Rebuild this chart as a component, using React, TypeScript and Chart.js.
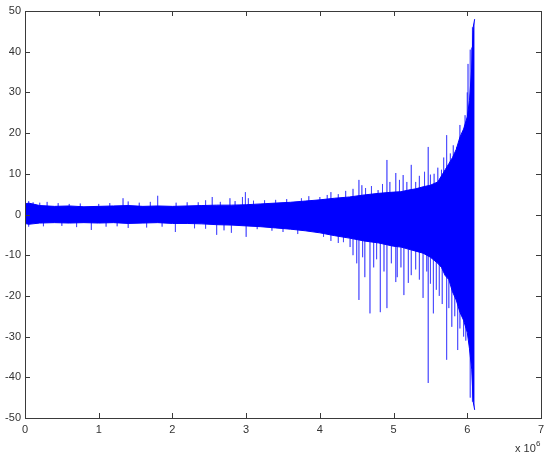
import React, { useEffect, useRef } from "react";
import { Chart, registerables } from "chart.js";

Chart.register(...registerables);

// x positions in units of 10^6 samples
const envX = [0, 0.05, 0.2, 0.4, 0.6, 0.8, 1.0, 1.2, 1.4, 1.6, 1.8, 2.0, 2.2, 2.4, 2.6, 2.8, 3.0, 3.2, 3.4, 3.6, 3.8, 4.0, 4.2, 4.4, 4.6, 4.8, 5.0, 5.1, 5.2, 5.3, 5.4, 5.5, 5.6, 5.65, 5.7, 5.75, 5.8, 5.85, 5.9, 5.95, 6.0, 6.03, 6.06, 6.08, 6.1];
const envUpper = [2.6, 2.8, 2.2, 2.0, 2.1, 1.9, 2.0, 2.1, 2.2, 2.0, 2.1, 2.0, 2.1, 2.2, 2.3, 2.3, 2.4, 2.6, 2.8, 3.0, 3.3, 3.6, 4.0, 4.3, 4.8, 5.2, 5.5, 5.6, 6.0, 6.3, 6.8, 7.2, 8.0, 9.5, 11, 12.5, 14, 16, 19, 21, 24, 28, 36, 46, 48];
const envLower = [-2.2, -2.4, -2.1, -2.0, -2.1, -2.0, -2.1, -2.0, -2.2, -2.1, -2.0, -2.2, -2.2, -2.3, -2.5, -2.6, -2.8, -3.0, -3.3, -3.6, -4.0, -4.5, -5.2, -5.8, -6.5, -7.0, -7.8, -8.0, -8.5, -9.0, -9.5, -10.5, -12, -13, -15, -16, -19, -21, -24, -26, -29, -33, -38, -46, -48];

const spikeUpX = [0.05, 0.11, 0.2, 0.3, 0.45, 0.6, 0.75, 1.0, 1.15, 1.33, 1.40, 1.55, 1.7, 1.80, 2.05, 2.20, 2.35, 2.45, 2.54, 2.65, 2.78, 2.85, 2.95, 2.99, 3.03, 3.1, 3.25, 3.4, 3.55, 3.64, 3.75, 3.85, 4.0, 4.1, 4.15, 4.25, 4.35, 4.45, 4.53, 4.57, 4.62, 4.70, 4.79, 4.85, 4.91, 4.95, 5.03, 5.08, 5.13, 5.18, 5.24, 5.30, 5.35, 5.42, 5.47, 5.5, 5.55, 5.6, 5.65, 5.68, 5.72, 5.77, 5.81, 5.86, 5.9, 5.93, 5.97, 6.0, 6.01, 6.04, 6.06, 6.07];
const spikeUpY = [3.3, 3.0, 2.9, 3.1, 2.8, 2.6, 2.7, 2.6, 2.8, 4.0, 3.2, 2.9, 3.1, 4.6, 2.9, 3.0, 3.0, 3.5, 4.3, 3.1, 4.0, 3.3, 4.3, 5.5, 4.0, 3.4, 3.5, 3.6, 3.8, 3.0, 4.0, 4.5, 4.3, 4.8, 5.5, 5.0, 5.8, 6.3, 8.5, 7.2, 6.5, 7.0, 6.0, 7.5, 13.4, 8.0, 10.2, 8.5, 9.7, 8.0, 12.2, 8.0, 9.5, 10.5, 16.6, 9.8, 10, 11.5, 11, 14, 19.5, 15, 17, 16.6, 22, 16.3, 24.4, 30, 37, 40.5, 41, 46];
const spikeDownX = [0.05, 0.25, 0.5, 0.7, 0.9, 1.1, 1.25, 1.4, 1.65, 1.86, 2.04, 2.3, 2.45, 2.6, 2.7, 2.8, 3.0, 3.15, 3.35, 3.5, 3.7, 3.83, 3.94, 4.05, 4.15, 4.25, 4.32, 4.41, 4.45, 4.5, 4.53, 4.58, 4.61, 4.68, 4.73, 4.77, 4.82, 4.87, 4.91, 4.97, 5.03, 5.05, 5.1, 5.14, 5.20, 5.24, 5.3, 5.35, 5.40, 5.45, 5.47, 5.5, 5.54, 5.58, 5.62, 5.66, 5.72, 5.75, 5.79, 5.83, 5.87, 5.9, 5.95, 5.98, 6.04, 6.07];
const spikeDownY = [-3.0, -2.9, -2.8, -3.1, -3.8, -3.0, -2.9, -3.3, -3.2, -3.0, -4.3, -3.4, -3.5, -5.0, -3.9, -4.5, -5.5, -3.6, -4.0, -4.3, -4.8, -3.8, -3.0, -5.5, -6.5, -7.0, -6.8, -8.0, -10, -12, -21, -10.5, -15.4, -24.3, -13, -11, -24, -14, -23, -12, -16.6, -15.4, -13, -19.8, -16.8, -14.9, -13.5, -16, -20.5, -14, -41.4, -17, -24.3, -18.5, -20, -22, -35.7, -23, -27.6, -25, -33.3, -28, -30, -31, -45, -46];

const xTicks = [0, 1, 2, 3, 4, 5, 6, 7];
const yTicks = [-50, -40, -30, -20, -10, 0, 10, 20, 30, 40, 50];

const FONT = "'Liberation Sans', Arial, Helvetica, sans-serif";
const AXIS = "#3a3a3a";

function spikePoints(xs: number[], ys: number[]) {
  const pts: { x: number; y: number }[] = [];
  xs.forEach((x, i) => {
    pts.push({ x, y: 0 });
    pts.push({ x, y: ys[i] });
    pts.push({ x, y: 0 });
  });
  return pts;
}

const boxPlugin = {
  id: "matlabBox",
  afterDraw(chart: any) {
    const { ctx, chartArea, scales } = chart;
    const { left, right, top, bottom } = chartArea;
    ctx.save();
    ctx.strokeStyle = AXIS;
    ctx.lineWidth = 1;
    ctx.strokeRect(Math.round(left) + 0.5, Math.round(top) + 0.5, Math.round(right - left), Math.round(bottom - top));
    ctx.beginPath();
    xTicks.forEach((v) => {
      if (v === xTicks[0] || v === xTicks[xTicks.length - 1]) return;
      const px = Math.round(scales.x.getPixelForValue(v)) + 0.5;
      ctx.moveTo(px, bottom);
      ctx.lineTo(px, bottom - 5);
      ctx.moveTo(px, top);
      ctx.lineTo(px, top + 5);
    });
    yTicks.forEach((v) => {
      if (v === yTicks[0] || v === yTicks[yTicks.length - 1]) return;
      const py = Math.round(scales.y.getPixelForValue(v)) + 0.5;
      ctx.moveTo(left, py);
      ctx.lineTo(left + 5, py);
      ctx.moveTo(right, py);
      ctx.lineTo(right - 5, py);
    });
    ctx.stroke();
    ctx.fillStyle = "#333";
    ctx.font = `11px ${FONT}`;
    ctx.textAlign = "left";
    ctx.textBaseline = "alphabetic";
    ctx.fillText("x 10", right - 26, bottom + 34);
    ctx.font = `8px ${FONT}`;
    ctx.fillText("6", right - 5, bottom + 28);
    ctx.restore();
  },
};

export default function App() {
  const ref = useRef<HTMLCanvasElement | null>(null);
  useEffect(() => {
    if (!ref.current) return;
    const upper = envX.map((x, i) => ({ x, y: envUpper[i] }));
    const lower = envX.map((x, i) => ({ x, y: envLower[i] }));
    const chart = new Chart(ref.current, {
      type: "line",
      data: {
        datasets: [
          {
            data: upper,
            borderColor: "#0000ff",
            backgroundColor: "#0000ff",
            borderWidth: 1,
            pointRadius: 0,
            fill: false,
            tension: 0,
          },
          {
            data: lower,
            borderColor: "#0000ff",
            backgroundColor: "#0000ff",
            borderWidth: 1,
            pointRadius: 0,
            fill: "-1",
            tension: 0,
          },
          {
            data: spikePoints(spikeUpX, spikeUpY).concat(spikePoints(spikeDownX, spikeDownY)),
            borderColor: "rgba(30,30,255,0.6)",
            borderWidth: 1,
            pointRadius: 0,
            fill: false,
            tension: 0,
          },
        ],
      },
      options: {
        animation: false,
        responsive: false,
        parsing: false as any,
        layout: { padding: { left: 0, right: 9, top: 11, bottom: 0 } },
        plugins: { legend: { display: false }, tooltip: { enabled: false } },
        scales: {
          x: {
            type: "linear",
            min: 0,
            max: 7,
            afterFit: (s: any) => { s.height = 39; },
            afterBuildTicks: (s: any) => { s.ticks = xTicks.map((v) => ({ value: v })); },
            grid: { display: false, drawTicks: false },
            border: { display: false },
            ticks: { color: "#333", font: { family: FONT, size: 11 }, padding: 5, maxRotation: 0, callback: (v: any) => String(v) },
          },
          y: {
            type: "linear",
            min: -50,
            max: 50,
            afterFit: (s: any) => { s.width = 25; },
            afterBuildTicks: (s: any) => { s.ticks = yTicks.map((v) => ({ value: v })); },
            grid: { display: false, drawTicks: false },
            border: { display: false },
            ticks: { color: "#333", font: { family: FONT, size: 11 }, padding: 4, callback: (v: any) => String(v) },
          },
        },
      },
      plugins: [boxPlugin],
    });
    return () => chart.destroy();
  }, []);
  return (
    <div style={{ position: "absolute", left: 0, top: 0, width: 550, height: 457, background: "#fff" }}>
      <canvas ref={ref} width={550} height={457} style={{ display: "block", width: 550, height: 457 }} />
    </div>
  );
}
